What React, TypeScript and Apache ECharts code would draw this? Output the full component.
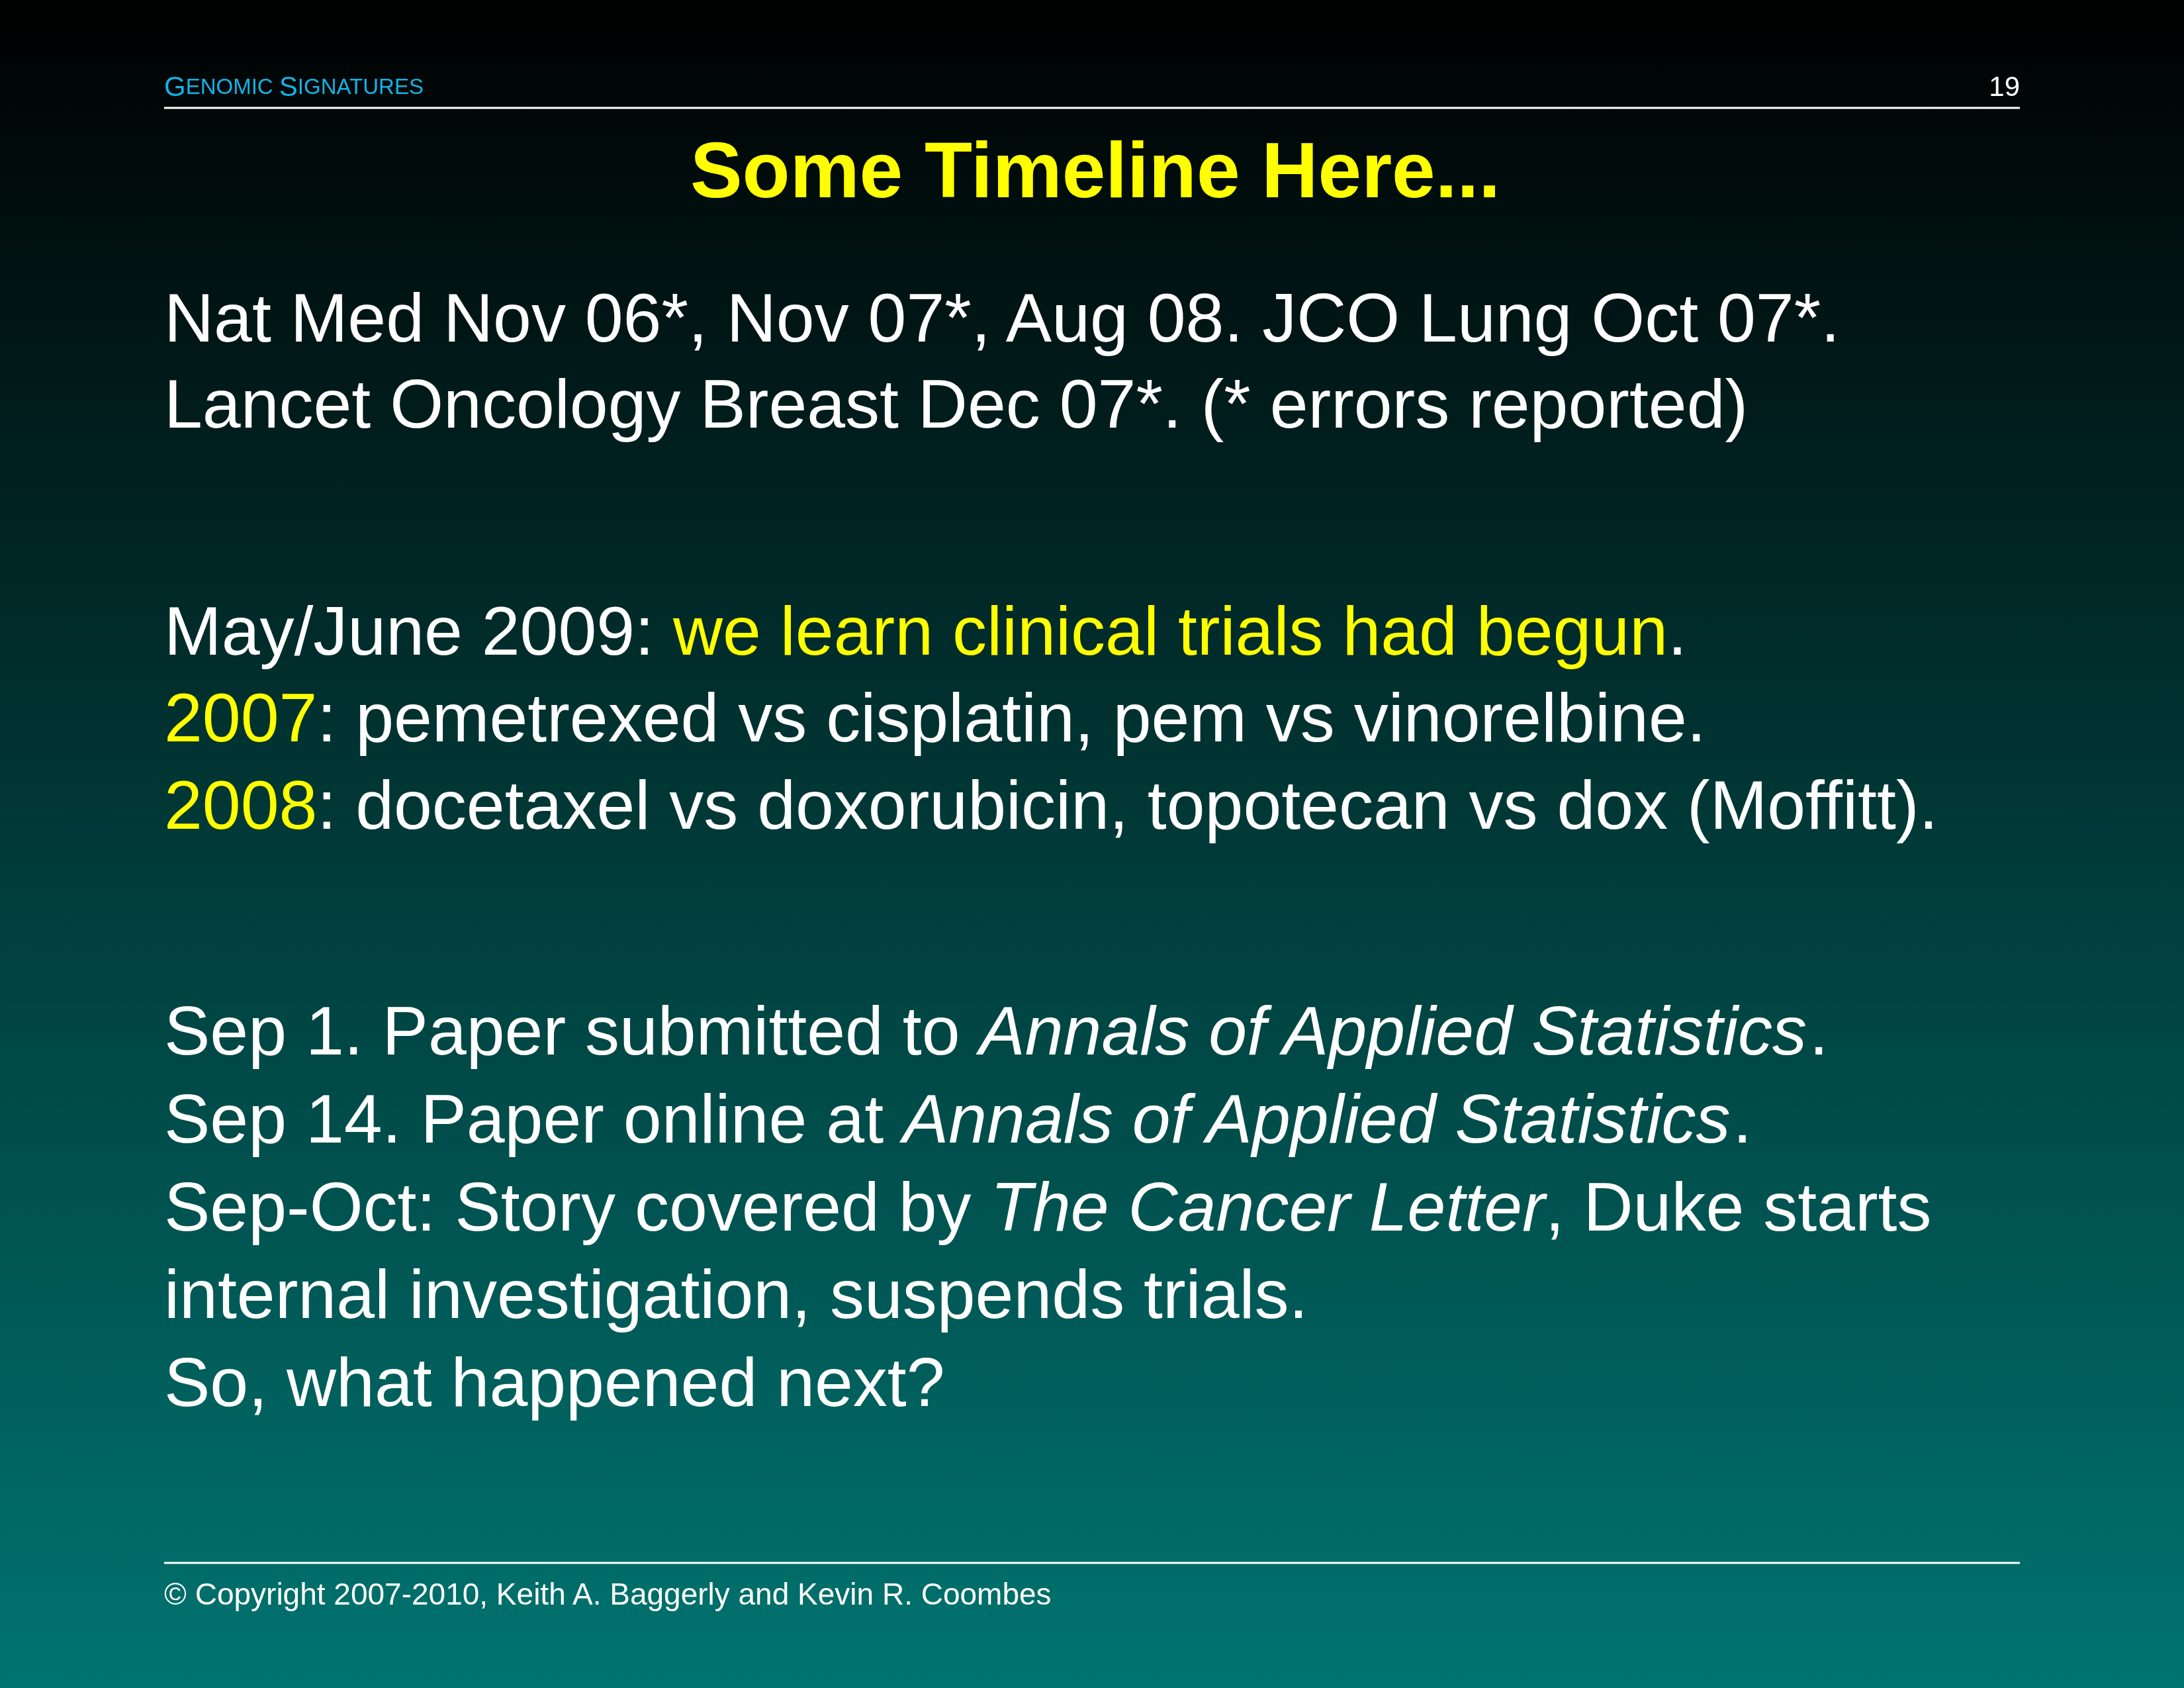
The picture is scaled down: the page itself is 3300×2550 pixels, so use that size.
import React, { useEffect, useRef } from 'react';
import * as echarts from 'echarts';

const W = 3300;
const H = 2550;
const LEFT = 248;
const RIGHT = 3052;
const FONT = '"Liberation Sans", Arial, sans-serif';

const header = '{b|G}{s|ENOMIC }{b|S}{s|IGNATURES}';
const pageNo = '19';
const title = 'Some Timeline Here...';
const copyright = '© Copyright 2007-2010, Keith A. Baggerly and Kevin R. Coombes';

// body lines: [rich text, y]
const bodyLines: [string, number][] = [
  ['{w|Nat Med Nov 06*, Nov 07*, Aug 08. JCO Lung Oct 07*.}', 480],
  ['{w|Lancet Oncology Breast Dec 07*. (* errors reported)}', 610],
  ['{w|May/June 2009: }{y|we learn clinical trials had begun}{w|.}', 953],
  ['{y|2007}{w|: pemetrexed vs cisplatin, pem vs vinorelbine.}', 1084],
  ['{y|2008}{w|: docetaxel vs doxorubicin, topotecan vs dox (Moffitt).}', 1216],
  ['{w|Sep 1. Paper submitted to }{i|Annals of Applied Statistics}{w|.}', 1557],
  ['{w|Sep 14. Paper online at }{i|Annals of Applied Statistics}{w|.}', 1690],
  ['{w|Sep-Oct: Story covered by }{i|The Cancer Letter}{w|, Duke starts}', 1823],
  ['{w|internal investigation, suspends trials.}', 1955],
  ['{w|So, what happened next?}', 2088],
];

const BODY = 104;

const App = () => {
  const ref = useRef<HTMLDivElement>(null);
  useEffect(() => {
    const chart = echarts.init(ref.current, null, { renderer: 'svg' });
    const rich = {
      w: { fill: '#ffffff', fontSize: BODY, fontFamily: FONT },
      y: { fill: '#ffff00', fontSize: BODY, fontFamily: FONT },
      i: { fill: '#ffffff', fontSize: BODY, fontFamily: FONT, fontStyle: 'italic' },
    } as any;
    const elements: any[] = [
      {
        type: 'rect', shape: { x: 0, y: 0, width: W, height: H }, silent: true,
        style: {
          fill: new echarts.graphic.LinearGradient(0, 0, 0, 1, [
            { offset: 0, color: '#000000' },
            { offset: 1, color: '#007470' },
          ]),
        },
      },
      {
        type: 'text', x: LEFT, y: 130,
        style: {
          text: header, verticalAlign: 'middle', align: 'left',
          rich: {
            b: { fill: '#10b4e8', fontSize: 42, fontFamily: FONT },
            s: { fill: '#10b4e8', fontSize: 33, fontFamily: FONT },
          },
        },
      },
      {
        type: 'text', x: RIGHT, y: 130,
        style: { text: pageNo, fill: '#ffffff', fontSize: 42, fontFamily: FONT, align: 'right', verticalAlign: 'middle' },
      },
      { type: 'line', shape: { x1: LEFT, y1: 163, x2: RIGHT, y2: 163 }, style: { stroke: '#ffffff', lineWidth: 3 } },
      {
        type: 'text', x: W / 2 + 5, y: 257,
        style: { text: title, fill: '#ffff00', fontSize: 118, fontWeight: 'bold', fontFamily: FONT, align: 'center', verticalAlign: 'middle' },
      },
      ...bodyLines.map(([t, y]) => ({
        type: 'text', x: LEFT, y,
        style: { text: t, rich, align: 'left', verticalAlign: 'middle' },
      })),
      { type: 'line', shape: { x1: LEFT, y1: 2361, x2: RIGHT, y2: 2361 }, style: { stroke: '#ffffff', lineWidth: 3 } },
      {
        type: 'text', x: LEFT, y: 2408,
        style: { text: copyright, fill: '#ffffff', fontSize: 46, fontFamily: FONT, align: 'left', verticalAlign: 'middle' },
      },
    ];
    chart.setOption({ animation: false, graphic: { elements } });
    return () => chart.dispose();
  }, []);
  return <div ref={ref} style={{ position: 'fixed', left: 0, top: 0, width: W, height: H }} />;
};

export default App;
